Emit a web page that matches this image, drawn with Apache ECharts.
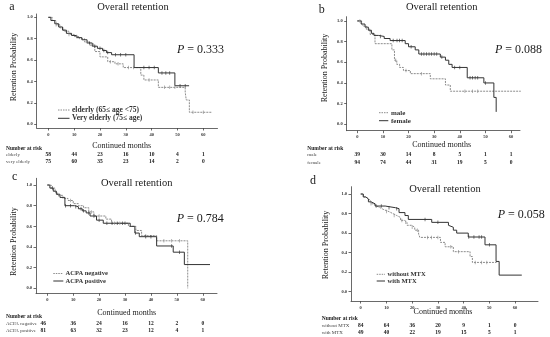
<!DOCTYPE html>
<html><head><meta charset="utf-8">
<script src="https://cdn.jsdelivr.net/npm/echarts@6/dist/echarts.min.js"></script>
<style>html,body{margin:0;padding:0;background:#fff}#c{width:550px;height:337px}</style>
</head><body><div id="c"></div>
<script>
// ---------- DATA ----------
const xTicks = [0, 10, 20, 30, 40, 50, 60];
const yTicks = [0, 0.2, 0.4, 0.6, 0.8, 1.0];
const riskTimes = [0, 10, 20, 30, 40, 50, 60];

const panelLetters = ['a', 'b', 'c', 'd'];
const panelTitle = 'Overall retention';
const pValues = ['0.333', '0.088', '0.784', '0.058'];
const yAxisName = 'Retention Probability';
const xAxisName = 'Continued months';
const riskHeader = 'Number at risk';

// Panel a
const aNames = ['elderly (65≤ age <75)', 'Very elderly (75≤ age)'];
const aRiskLabels = ['elderly', 'very elderly'];
const aElderlyT = [0, 1.5, 3, 4.5, 6, 8, 10, 12, 14, 16, 18, 20, 23, 25.8, 29, 35.8, 37, 42.6, 53, 53.4, 54.6, 63.5];
const aElderlyS = [1.0, 0.97, 0.93, 0.90, 0.87, 0.84, 0.82, 0.80, 0.77, 0.74, 0.68, 0.63, 0.585, 0.565, 0.53, 0.46, 0.414, 0.345, 0.30, 0.227, 0.112, 0.112];
const aElderlyC = [3, 8, 11, 15, 17.5, 24, 27, 31, 33, 39, 45, 47, 49, 56, 60];
const aVeryT = [0, 1, 2.5, 4, 5.5, 7, 9, 11, 13, 15, 17, 19, 21, 22.5, 24.5, 33.2, 42.6, 49, 54.5];
const aVeryS = [1.0, 0.97, 0.94, 0.91, 0.88, 0.85, 0.83, 0.81, 0.79, 0.76, 0.73, 0.71, 0.69, 0.67, 0.65, 0.53, 0.48, 0.36, 0.36];
const aVeryC = [16, 18, 20, 21.5, 23, 26, 28, 30, 37, 39, 41, 44, 45.5, 47, 51, 53];
const aRisk1 = [58, 44, 23, 16, 10, 4, 1];
const aRisk2 = [75, 60, 35, 23, 14, 2, 0];

// Panel b
const bNames = ['male', 'female'];
const bRiskLabels = ['male', 'female'];
const bMaleT = [0, 1.7, 2.4, 3.5, 5, 6.9, 13.5, 14.5, 15.4, 16.5, 18, 20.7, 28.5, 34.4, 36.3, 63.8];
const bMaleS = [1.0, 0.97, 0.95, 0.92, 0.87, 0.78, 0.72, 0.62, 0.58, 0.55, 0.52, 0.49, 0.44, 0.38, 0.32, 0.32];
const bMaleC = [1, 15, 19, 25, 42, 45, 47];
const bFemaleT = [0, 1.5, 3, 4.3, 5.5, 6.5, 8.2, 10.5, 12.8, 18.7, 20, 22.6, 24, 32.4, 34.4, 35.7, 37, 42.9, 49.4, 53.3, 54.2];
const bFemaleS = [1.0, 0.97, 0.94, 0.91, 0.88, 0.86, 0.85, 0.83, 0.81, 0.78, 0.75, 0.72, 0.68, 0.65, 0.62, 0.58, 0.55, 0.45, 0.40, 0.26, 0.12];
const bFemaleC = [9, 14, 15.5, 16.5, 17.5, 21, 25, 26, 27, 28, 29, 30, 31, 33, 38, 40, 44, 45, 46, 47, 50];
const bRisk1 = [39, 30, 14, 8, 5, 1, 1];
const bRisk2 = [94, 74, 44, 31, 19, 5, 0];

// Panel c
const cNames = ['ACPA negative', 'ACPA positive'];
const cRiskLabels = ['ACPA negative', 'ACPA positive'];
const cNegT = [0, 1.5, 3, 4, 6, 8, 10, 12, 14, 16, 18, 22.6, 24.8, 31.3, 34.2, 36.4, 42.2, 54.2];
const cNegS = [1.0, 0.97, 0.93, 0.90, 0.87, 0.85, 0.82, 0.80, 0.78, 0.74, 0.70, 0.67, 0.63, 0.60, 0.56, 0.51, 0.46, 0.0];
const cNegC = [4.5, 9, 17, 20, 26, 28, 38, 45, 48, 51];
const cPosT = [0, 1, 2.3, 3.5, 4.9, 6.8, 10.5, 12, 13.5, 15, 16.5, 19, 21.6, 32, 33.8, 35.5, 42.2, 48.6, 52.9, 62.8];
const cPosS = [1.0, 0.97, 0.94, 0.91, 0.88, 0.80, 0.79, 0.77, 0.75, 0.73, 0.70, 0.66, 0.63, 0.60, 0.535, 0.50, 0.41, 0.35, 0.23, 0.23];
const cPosC = [2, 7, 9, 11, 13, 14, 16, 18, 20, 23, 25, 27, 29, 30, 34, 38, 40, 48, 51];
const cRisk1 = [46, 36, 24, 16, 12, 2, 0];
const cRisk2 = [81, 63, 32, 23, 12, 4, 1];

// Panel d
const dNames = ['without MTX', 'with MTX'];
const dRiskLabels = ['without MTX', 'with MTX'];
const dWithoutT = [0, 1, 2, 3, 4, 5, 6, 7.5, 9, 11, 12.5, 14, 15.5, 17, 18, 19.8, 21, 22.5, 23, 31, 32.8, 36, 42.5, 43.4, 52.8];
const dWithoutS = [1.0, 0.97, 0.95, 0.93, 0.90, 0.88, 0.86, 0.84, 0.82, 0.80, 0.78, 0.76, 0.73, 0.71, 0.68, 0.66, 0.63, 0.59, 0.556, 0.505, 0.46, 0.41, 0.36, 0.30, 0.30];
const dWithoutC = [4, 10, 13, 16, 17.5, 20, 22, 26, 27.5, 30, 35, 38, 44.5, 47, 49];
const dWithT = [0, 1, 2, 3, 4, 5.6, 9.5, 13.5, 14.9, 17.2, 18.5, 27.6, 34.1, 34.7, 36, 37.3, 41.8, 48.3, 52.6, 53.8, 62.6];
const dWithS = [1.0, 0.97, 0.95, 0.92, 0.90, 0.877, 0.86, 0.85, 0.81, 0.78, 0.74, 0.71, 0.68, 0.66, 0.63, 0.60, 0.56, 0.48, 0.31, 0.17, 0.17];
const dWithC = [6, 8, 11, 14, 25, 30, 42, 44, 46, 47, 50];
const dRisk1 = [84, 64, 36, 20, 9, 1, 0];
const dRisk2 = [49, 40, 22, 19, 15, 5, 1];

// ---------- LAYOUT ----------
const SERIF = 'Liberation Serif';
const DASH_COLOR = '#8c8c8c';
const SOLID_COLOR = '#333333';
const TEXT = '#1a1a1a';

const panels = [
  { grid: {left: 36.7, top: 14, width: 180.8, height: 114}, x: [-4.5, 65.5], y: [-0.035, 1.031],
    curves: [[aElderlyT, aElderlyS, aElderlyC], [aVeryT, aVeryS, aVeryC]], names: aNames, riskLabels: aRiskLabels, risk: [aRisk1, aRisk2],
    letter: [12, 7], title: [133, 7], p: [177, 50], ylab: [14, 67], xlab: [121.7, 145.7],
    legend: {x0: 58, x1: 69.5, tx: 72, ys: [110, 118.3], fs: 7.5}, table: {lx: 6, hy: 149, ys: [154.3, 161.7], off: 0} },
  { grid: {left: 346.7, top: 16.7, width: 173.3, height: 114}, x: [-4.14, 63.5], y: [-0.062, 1.041],
    curves: [[bMaleT, bMaleS, bMaleC], [bFemaleT, bFemaleS, bFemaleC]], names: bNames, riskLabels: bRiskLabels, risk: [bRisk1, bRisk2],
    letter: [321.7, 10], title: [441.7, 7.3], p: [495, 50], ylab: [325, 68], xlab: [441.7, 145],
    legend: {x0: 379, x1: 388.3, tx: 391, ys: [112.7, 120.7], fs: 7}, table: {lx: 307.3, hy: 149, ys: [155, 162.3], off: 0} },
  { grid: {left: 36, top: 178.3, width: 181, height: 115}, x: [-4.36, 65.5], y: [-0.048, 1.065],
    curves: [[cNegT, cNegS, cNegC], [cPosT, cPosS, cPosC]], names: cNames, riskLabels: cRiskLabels, risk: [cRisk1, cRisk2],
    letter: [14.7, 177], title: [136.7, 183.3], p: [176.7, 219], ylab: [14, 241.7], xlab: [126.7, 313.3],
    legend: {x0: 53.3, x1: 63.3, tx: 65.5, ys: [273.5, 281], fs: 6.5}, table: {lx: 6, hy: 316.7, ys: [323.3, 330.7], off: -4} },
  { grid: {left: 351, top: 186.7, width: 187, height: 114.3}, x: [-3.77, 68.9], y: [-0.095, 1.075],
    curves: [[dWithoutT, dWithoutS, dWithoutC], [dWithT, dWithS, dWithC]], names: dNames, riskLabels: dRiskLabels, risk: [dRisk1, dRisk2],
    letter: [313, 180.5], title: [445, 189], p: [497.7, 215], ylab: [325.7, 245], xlab: [443, 311.7],
    legend: {x0: 376.7, x1: 385, tx: 387.5, ys: [274.3, 281], fs: 6.5}, table: {lx: 321.7, hy: 319, ys: [325.7, 332.3], off: 0} }
];

function survAt(T, S, t) {
  let v = S[0];
  for (let i = 0; i < T.length; i++) if (T[i] <= t) v = S[i];
  return v;
}

const axisLine = {show: true, onZero: false, lineStyle: {color: '#444', width: 0.8}};
const grids = [], xAxes = [], yAxes = [], series = [];
panels.forEach((p, i) => {
  grids.push(Object.assign({containLabel: false}, p.grid));
  xAxes.push({
    type: 'value', gridIndex: i, min: p.x[0], max: p.x[1],
    axisLine: axisLine, splitLine: {show: false},
    axisTick: {show: true, customValues: xTicks, length: 2.5, lineStyle: {color: '#444', width: 0.8}},
    axisLabel: {customValues: xTicks, fontSize: 4.5, fontWeight: 'bold', color: '#333', margin: 4, fontFamily: SERIF}
  });
  yAxes.push({
    type: 'value', gridIndex: i, min: p.y[0], max: p.y[1],
    axisLine: axisLine, splitLine: {show: false},
    axisTick: {show: true, customValues: yTicks, length: 2.5, lineStyle: {color: '#444', width: 0.8}},
    axisLabel: {customValues: yTicks, fontSize: 4.5, fontWeight: 'bold', color: '#333', margin: 4, fontFamily: SERIF,
      formatter: v => v.toFixed(1)}
  });
  p.curves.forEach((c, k) => {
    const [T, S, C] = c;
    const color = k === 0 ? DASH_COLOR : SOLID_COLOR;
    series.push({
      type: 'line', xAxisIndex: i, yAxisIndex: i, step: 'end', showSymbol: false, silent: true,
      data: T.map((t, j) => [t, S[j]]),
      lineStyle: {color: color, width: 1, type: k === 0 ? [2, 1] : 'solid'},
      z: k === 0 ? 2 : 3, animation: false
    });
    series.push({
      type: 'scatter', xAxisIndex: i, yAxisIndex: i, silent: true,
      data: C.map(t => [t, survAt(T, S, t)]),
      symbol: 'rect', symbolSize: [0.8, 3.5],
      itemStyle: {color: color}, z: 4, animation: false
    });
  });
});

const chart = echarts.init(document.getElementById('c'), null, {renderer: 'canvas'});
chart.setOption({animation: false, grid: grids, xAxis: xAxes, yAxis: yAxes, series: series});

const g = [];
panels.forEach((p, i) => {
  const t = (x, y, text, style) => g.push({type: 'text', x: x, y: y, silent: true,
    style: Object.assign({text: text, fill: TEXT, fontFamily: SERIF}, style)});
  t(p.letter[0], p.letter[1], panelLetters[i], {fontSize: 12, align: 'center', verticalAlign: 'middle'});
  t(p.title[0], p.title[1], panelTitle, {fontSize: 10.5, align: 'center', verticalAlign: 'middle'});
  g.push({type: 'text', x: p.p[0], y: p.p[1], silent: true, style: {
    text: '{i|P}{n| = ' + pValues[i] + '}', align: 'left', verticalAlign: 'middle',
    rich: {i: {fontFamily: SERIF, fontStyle: 'italic', fontSize: 12, fill: TEXT},
           n: {fontFamily: SERIF, fontSize: 12, fill: TEXT}}}});
  g.push({type: 'text', x: p.ylab[0], y: p.ylab[1], rotation: Math.PI / 2, silent: true,
    style: {text: yAxisName, fontFamily: SERIF, fontSize: 8, fill: TEXT, align: 'center', verticalAlign: 'middle'}});
  t(p.xlab[0], p.xlab[1], xAxisName, {fontSize: 8, align: 'center', verticalAlign: 'middle'});
  // legend
  const L = p.legend;
  p.names.forEach((nm, k) => {
    g.push({type: 'line', silent: true, shape: {x1: L.x0, y1: L.ys[k], x2: L.x1, y2: L.ys[k]},
      style: {stroke: k === 0 ? DASH_COLOR : SOLID_COLOR, lineWidth: 1, lineDash: k === 0 ? [1.5, 1] : null}});
    t(L.tx, L.ys[k], nm, {fontSize: L.fs, fontWeight: 'bold', align: 'left', verticalAlign: 'middle', fill: '#333'});
  });
  // risk table
  const T = p.table;
  t(T.lx, T.hy, riskHeader, {fontSize: 5.5, fontWeight: 'bold', align: 'left', verticalAlign: 'middle'});
  p.riskLabels.forEach((lb, k) => {
    t(T.lx, T.ys[k], lb, {fontSize: 5, align: 'left', verticalAlign: 'middle', fill: '#444'});
    p.risk[k].forEach((v, j) => {
      const px = chart.convertToPixel({xAxisIndex: i}, riskTimes[j]) + (j === 0 ? T.off : 0);
      t(px, T.ys[k], String(v), {fontSize: 5.5, fontWeight: 'bold', align: 'center', verticalAlign: 'middle'});
    });
  });
});
chart.setOption({graphic: {elements: g}});
</script>
</body></html>
